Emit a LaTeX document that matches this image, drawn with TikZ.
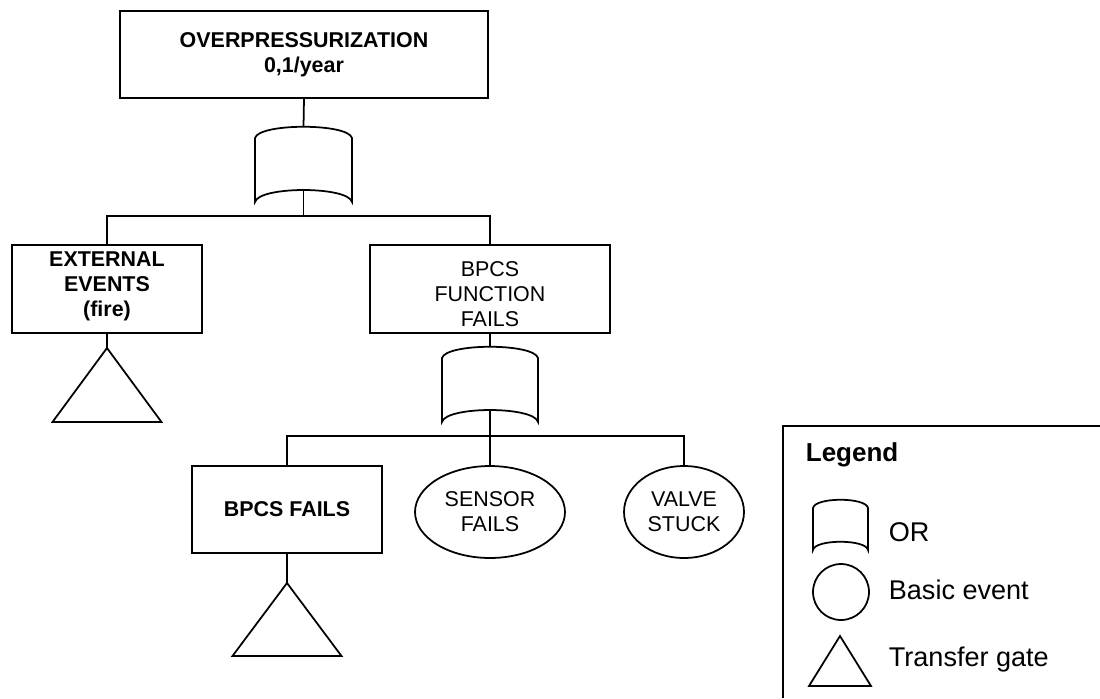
\documentclass[tikz,border=0pt]{standalone}
\usepackage{fontspec}
\setmainfont{Liberation Sans}
\usetikzlibrary{shapes.geometric}

\tikzset{
  evbox/.style={draw,align=center,inner sep=0pt,font=\fontsize{12.2}{14.2}\selectfont},
  evboxbold/.style={evbox,font=\fontsize{12.2}{14.2}\selectfont\bfseries},
  basicev/.style={draw,ellipse,align=center,inner sep=0pt,font=\fontsize{12.2}{14.2}\selectfont},
  legtext/.style={anchor=west,inner sep=0pt,font=\fontsize{15.4}{17}\selectfont}
}

\begin{document}
\begin{tikzpicture}[x=0.02cm,y=-0.02cm,line width=1pt]
\useasboundingbox (0,0) rectangle (1100,698);
% top event
\node[evboxbold,minimum width=7.36cm,minimum height=1.74cm] (top) at (304,54.5) {OVERPRESSURIZATION\\0,1/year};
% first or gate
\coordinate (g1in) at (303.5,127);
\coordinate (g1out) at (303.5,190);
\draw (255,138) .. controls (259,123) and (348,123) .. (352,138) -- (352,202)
      .. controls (348,186) and (259,186) .. (255,202) -- cycle;
\draw (top.south) -- (g1in);
% second level
\node[evboxbold,minimum width=3.8cm,minimum height=1.76cm] (ext) at (107,289) {EXTERNAL\\EVENTS\\(fire)\rule[-5.5pt]{0pt}{0pt}};
\node[evbox,minimum width=4.8cm,minimum height=1.76cm] (bfun) at (490,289) {\rule{0pt}{14.5pt}BPCS\\FUNCTION\\FAILS};
\coordinate (bar1) at (303.5,216);
\draw (ext.north) -- (ext.north |- bar1) -- (bfun.north |- bar1) -- (bfun.north);
\draw (g1out) -- (g1out |- bar1);
% transfer under external events
\coordinate (t1) at (107,348);
\draw (ext.south) -- (t1);
\draw (t1) -- ++(-54.5,74) -- ++(109,0) -- cycle;
% second or gate
\coordinate (g2in) at (490,347);
\coordinate (g2out) at (490,410);
\draw (442,358) .. controls (446,343) and (534,343) .. (538,358) -- (538,422)
      .. controls (534,406) and (446,406) .. (442,422) -- cycle;
\draw (bfun.south) -- (g2in);
% third level
\node[evboxbold,minimum width=3.8cm,minimum height=1.74cm] (bfail) at (287,509.5) {BPCS FAILS};
\node[basicev,minimum width=3cm,minimum height=1.84cm] (sensor) at (490,512) {SENSOR\\FAILS};
\node[basicev,minimum width=2.4cm,minimum height=1.84cm] (valve) at (684,512) {VALVE\\STUCK};
\coordinate (bar2) at (490,436);
\draw (bfail.north) -- (bfail.north |- bar2) -- (valve.north |- bar2) -- (valve.north);
\draw (g2out) -- (sensor.north);
% transfer under bpcs fails
\coordinate (t2) at (287,583);
\draw (bfail.south) -- (t2);
\draw (t2) -- ++(-54.5,73) -- ++(109,0) -- cycle;
% legend
\draw (1100,426) -- (783,426) -- (783,698);
\node[anchor=west,inner sep=0pt,font=\fontsize{14.8}{17}\selectfont\bfseries] (legtitle) at (805,455) {Legend};
\draw (813,508) .. controls (815,497) and (866,497) .. (868,508) -- (868,550)
      .. controls (866,539) and (815,539) .. (813,550) -- cycle;
\node[legtext] (lor) at (888,532) {OR};
\node[draw,circle,minimum size=1.12cm,inner sep=0pt] (lbasic) at (841,592) {};
\node[legtext] (lbas) at (888,590) {Basic event};
\coordinate (ltri) at (840,636);
\draw (ltri) -- ++(-31,50) -- ++(62,0) -- cycle;
\node[legtext] (ltrans) at (888,660) {Transfer gate};
\end{tikzpicture}
\end{document}
